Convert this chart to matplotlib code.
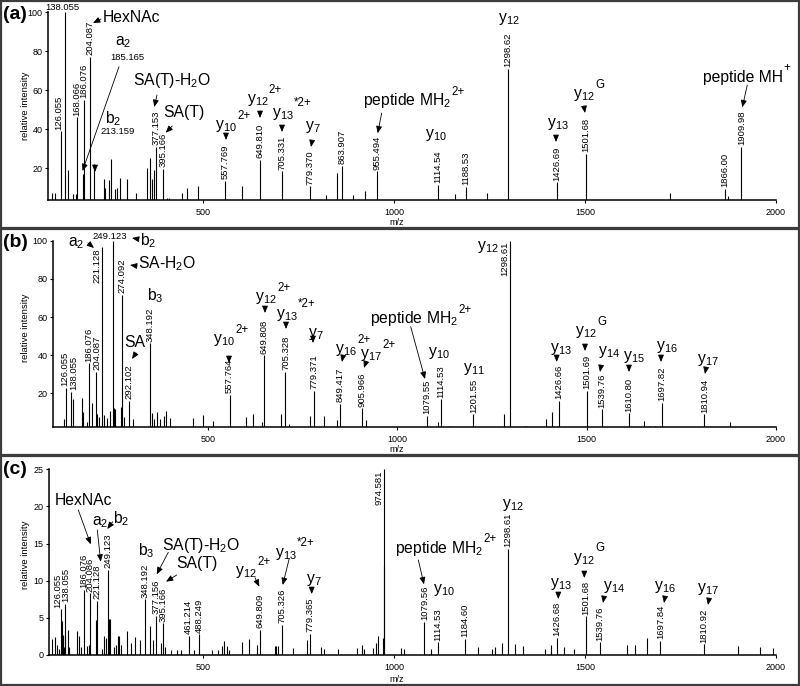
import matplotlib
matplotlib.use('Agg')
import matplotlib.pyplot as plt
import matplotlib.transforms as mtransforms
from matplotlib.patches import FancyArrowPatch, Rectangle

plt.rcParams['font.family'] = ['Liberation Sans', 'DejaVu Sans']
plt.rcParams['mathtext.default'] = 'regular'

# ---------------- data (m/z, relative intensity) ----------------
mz_a = [104, 111, 126.055, 138.055, 145, 159, 165.5, 168.066, 185.165, 186.076,
        204.087, 213.159, 239, 242, 253, 257, 269, 273, 282.5, 299, 323, 352, 360,
        365, 370, 377.153, 395.166, 404, 410, 443, 457, 485, 557.769, 602, 649.810,
        705.331, 779.370, 822, 849.5, 863.907, 891.5, 924.6, 955.494, 1114.54,
        1159.6, 1188.53, 1244, 1298.62, 1426.69, 1501.68, 1723, 1866.00, 1876,
        1909.98]
int_a = [7, 7, 38.8, 100, 19, 6.5, 6.5, 46, 17, 55,
         77, 22, 14.4, 10, 14, 24.6, 9, 10, 14.7, 14.4, 7, 20, 25,
         14.5, 19, 30.8, 19.6, 4.8, 4.8, 7, 10, 11, 13.5, 11, 24.3,
         18.3, 10.6, 6.3, 17.4, 21.3, 6.3, 8, 18.3, 11.4,
         6.5, 10.3, 7, 70.8, 12.6, 27.2, 7, 9.2, 5.5,
         30.8]
tags_a = [126.055, 168.066, 186.076, 204.087, 377.153, 395.166, 557.769, 649.810,
          705.331, 779.370, 863.907, 955.494, 1114.54, 1188.53, 1298.62, 1426.69,
          1501.68, 1866.00, 1909.98]
top_a = [138.055]
side_a = []
shift_a = {126.055: -1.5}

mz_b = [120.7, 126.055, 138.055, 145.3, 167.5, 171.7, 180.7, 186.076, 194.6, 204.087,
        207.8, 213.9, 221.128, 226.3, 233.4, 242.2, 249.123, 253.5, 256, 271.2,
        274.092, 279.1, 292.102, 302.8, 348.192, 352.2, 358.3, 367, 374.1, 385.5,
        390, 400.5, 460.4, 488.4, 514.8, 557.764, 601, 620.3, 642.5, 649.808,
        692.7, 705.328, 713.8, 770, 779.371, 807, 840.5, 849.417, 905.966, 917,
        1079.55, 1107.8, 1114.53, 1136.8, 1201.55, 1282, 1298.61, 1336, 1340, 1392,
        1409.5, 1426.66, 1501.69, 1539.76, 1610.80, 1651.5, 1664, 1680.5, 1697.82,
        1810.94, 1878.5]
int_b = [6.7, 22.8, 20.9, 16.8, 17.4, 10, 5, 35.8, 15, 31.4,
         9, 7.5, 96.5, 8.5, 7, 11, 100, 12.2, 12, 13,
         71.7, 7.5, 16, 6.5, 46.2, 9.5, 6.5, 10, 6.5, 8,
         10.5, 7, 7.2, 8.5, 5.5, 19.1, 7.5, 9, 5, 40,
         9, 31.3, 4, 8, 21.4, 8, 6, 14.4, 12.1, 6,
         8.1, 5, 16.9, 3, 9, 9.2, 100, 3, 3, 6.5,
         10, 16, 21.2, 11.6, 9.5, 5.5, 3, 3, 15.1,
         9, 5]
tags_b = [126.055, 138.055, 186.076, 204.087, 274.092, 292.102, 348.192, 557.764,
          649.808, 705.328, 779.371, 849.417, 905.966, 1079.55, 1114.53, 1201.55,
          1426.66, 1501.69, 1539.76, 1610.80, 1697.82, 1810.94]
top_b = [249.123]
side_b = [221.128, 1298.61]
shift_b = {126.055: -1.5, 138.055: 3.5, 204.087: 1}

mz_c = [104.3, 111.4, 117.4, 121.9, 126.055, 128.9, 131.6, 135, 136.8, 138.055,
        144.7, 148.1, 168.2, 175, 180.3, 186.076, 196, 199.7, 204.086, 218,
        221.128, 235.3, 240.6, 244.2, 249.123, 252, 254.5, 266.8, 271.2, 275.7,
        279, 283.5, 300.8, 309.7, 321.8, 334, 348.192, 360.3, 367.4, 377.156,
        390, 395.166, 399.6, 415, 431.9, 440.8, 461.214, 476.4, 488.249, 523.6,
        539.3, 548.2, 554.2, 561.3, 568.1, 600.6, 620.5, 641.5, 649.809, 687.9,
        691.3, 695, 705.326, 734.3, 771, 779.365, 807.7, 816.3, 852.2, 904,
        916.7, 922, 945.5, 952.6, 957, 970.1, 973.6, 974.581, 1018, 1026,
        1079.56, 1097.5, 1114.53, 1184.60, 1220.7, 1255.8, 1264.4, 1282, 1298.61, 1317.6,
        1338.6, 1395.4, 1410.4, 1426.68, 1446, 1472.2, 1501.68, 1539.76, 1611, 1631.3,
        1663.5, 1697.84, 1810.92, 1902, 1958.9, 1993.7]
int_c = [2.1, 2.4, 1.35, 0.8, 6.15, 4.6, 2.7, 1.1, 2.5, 6.9,
         3.3, 1.1, 3.2, 2.5, 1.1, 8.75, 1.2, 1.4, 8.3, 4.7,
         7.3, 0.75, 2.5, 2.3, 11.5, 4.8, 4.8, 1.1, 1.4, 2.5,
         2.5, 1.4, 3.2, 1.6, 2.4, 2, 7.5, 3.9, 2, 5.3,
         1.6, 4.25, 1.1, 0.7, 0.7, 0.7, 2.55, 0.7, 2.8, 0.7,
         0.7, 1.2, 1.9, 1.2, 0.7, 1.8, 2.2, 1.3, 3.35, 1.2,
         1.2, 1.2, 4.05, 1, 2, 2.85, 1.1, 0.8, 0.8, 0.9,
         1.4, 0.8, 1, 1.6, 2.5, 2.3, 12, 25, 0.9, 0.8,
         4.45, 0.85, 1.7, 2.15, 1.1, 0.8, 1.1, 1.6, 14.3, 1.5,
         1.2, 0.8, 1.3, 2.3, 1.1, 0.8, 5.2, 1.7, 1.4, 1.3,
         2.25, 1.9, 1.45, 1.2, 1.1, 1.0]
tags_c = [126.055, 138.055, 186.076, 204.086, 221.128, 249.123, 348.192, 377.156,
          395.166, 461.214, 488.249, 649.809, 705.326, 779.365, 1079.56, 1114.53,
          1184.60, 1298.61, 1426.68, 1501.68, 1539.76, 1697.84, 1810.92]
top_c = []
side_c = [974.581]
shift_c = {126.055: -3, 138.055: 1}

# ion annotations: (text, superscript, left px, baseline px); arrows (x0, y0, x1, y1) px
ions_a = [('HexNAc', '', 103, 21.7), ('a$_2$', '', 115, 45), ('b$_2$', '', 105, 123.3),
          ('SA(T)-H$_2$O', '', 133.3, 85), ('SA(T)', '', 163.3, 117.3),
          ('y$_{10}$', '2+', 215, 129.3), ('y$_{12}$', '2+', 246.7, 103.3),
          ('y$_{13}$', '*2+', 271.7, 116.7), ('y$_7$', '', 305, 130),
          ('peptide MH$_2$', '2+', 362.7, 105), ('y$_{10}$', '', 425, 138.3),
          ('y$_{12}$', '', 498.3, 21.7), ('y$_{13}$', '', 546.7, 126.7),
          ('y$_{12}$', 'G', 573.3, 98.3), ('peptide MH', '+', 702.7, 81.7)]
small_a = [('185.165', 110, 60), ('213.159', 100.7, 134)]
arrows_a = [(101, 19, 93, 23), (119, 66.7, 82.5, 171), (95, 165, 95, 172),
            (157, 95, 154.3, 107), (172.3, 126, 165.7, 132.7), (226, 134, 226, 140),
            (260, 111, 260, 118), (282, 126, 282, 132), (312, 141, 311, 147),
            (381.7, 113, 377.7, 133.3), (556, 136, 556, 142), (584, 106, 585, 113),
            (747.3, 85, 742.3, 107.3)]

ions_b = [('a$_2$', '', 68.3, 246.7), ('b$_2$', '', 140, 245), ('SA-H$_2$O', '', 138.3, 268.3),
          ('b$_3$', '', 146.7, 300), ('SA', '', 124, 346.7), ('y$_{10}$', '2+', 213.3, 343.3),
          ('y$_{12}$', '2+', 255, 301), ('y$_{13}$', '*2+', 276, 317.7),
          ('y$_7$', '', 308.3, 336.7), ('y$_{16}$', '2+', 335, 353.3),
          ('y$_{17}$', '2+', 360, 358.3), ('peptide MH$_2$', '2+', 370, 323),
          ('y$_{10}$', '', 428.3, 355.7), ('y$_{11}$', '', 463.3, 371.7),
          ('y$_{12}$', '', 476.7, 250), ('y$_{13}$', '', 550, 351.7),
          ('y$_{12}$', 'G', 575, 335), ('y$_{14}$', '', 598.3, 355),
          ('y$_{15}$', '', 622.7, 360), ('y$_{16}$', '', 656, 350), ('y$_{17}$', '', 697.3, 363.3)]
small_b = []
arrows_b = [(88, 243, 94, 248), (138, 239, 132, 238), (137, 266, 130, 265),
            (136, 353, 132, 359), (229, 357, 229, 363), (265, 307, 265, 313),
            (286, 323, 286, 329), (313, 337, 313, 343), (343, 356, 342, 362),
            (366, 362, 364, 368), (410.7, 326.7, 425, 379), (556.7, 356, 556.7, 362),
            (585, 345, 585, 351), (601, 366, 600, 372), (629, 366, 629, 372),
            (661, 356, 661, 362), (706, 368, 705, 374)]

ions_c = [('HexNAc', '', 55, 505), ('a$_2$', '', 91.7, 525), ('b$_2$', '', 113.3, 523.3),
          ('b$_3$', '', 138.3, 555), ('SA(T)-H$_2$O', '', 161.7, 550), ('SA(T)', '', 176.7, 568.3),
          ('y$_{12}$', '2+', 235, 575), ('y$_{13}$', '*2+', 275, 556.7),
          ('y$_7$', '', 306, 583.3), ('peptide MH$_2$', '2+', 395, 552.5),
          ('y$_{10}$', '', 433.3, 593.3), ('y$_{12}$', '', 501.7, 508.3), ('y$_{13}$', '', 550, 586.7),
          ('y$_{12}$', 'G', 573.3, 561.7), ('y$_{14}$', '', 602.7, 590), ('y$_{16}$', '', 654, 590),
          ('y$_{17}$', '', 696.7, 591.7)]
small_c = []
arrows_c = [(78.3, 510, 90.7, 544.3), (97.3, 530, 100.7, 561.7), (112.7, 521.7, 107.3, 529),
            (168.3, 552.3, 156.7, 574.3), (176.7, 575, 166, 581.7), (255, 577.7, 259.3, 586.7),
            (289.3, 558.3, 282.7, 585), (311.7, 588, 311.7, 594), (418.3, 560, 424, 584.3),
            (558.3, 593, 558.3, 599), (584.3, 572, 584.3, 578), (604, 597, 603, 603),
            (665, 597, 664, 603), (709, 599, 708, 605)]

# ---------------- figure ----------------
W, H = 800, 686
fig = plt.figure(figsize=(W / 100, H / 100), dpi=100)
pix = mtransforms.Affine2D().scale(1 / W, -1 / H).translate(0, 1) + fig.transFigure


def fmt(m):
    return f'{m:.3f}' if m < 1000 else f'{m:.2f}'


panels = [
    # letter, axes rect px (l, t, r, b), xlim, ylim, yticks, data, box px, ylabel y, m/z y, letter y
    ('(a)', (48.3, 12.3, 775.7, 200), (93.8, 2000), (3.6, 100), [20, 40, 60, 80, 100],
     (mz_a, int_a, tags_a, top_a, side_a, shift_a, ions_a, small_a, arrows_a),
     (1, 1, 799, 228), 106, 222.5, 19),
    ('(b)', (53.3, 240.7, 776, 427.3), (92.5, 2000), (2.2, 100), [20, 40, 60, 80, 100],
     (mz_b, int_b, tags_b, top_b, side_b, shift_b, ions_b, small_b, arrows_b),
     (1, 229, 799, 455), 328, 450, 247),
    ('(c)', (49.3, 469.3, 775.7, 655), (96.4, 2000), (0, 25), [0, 5, 10, 15, 20, 25],
     (mz_c, int_c, tags_c, top_c, side_c, shift_c, ions_c, small_c, arrows_c),
     (1, 456, 799, 685), 555, 680, 474),
]

for letter, (l, t, r, b), xlim, ylim, yticks, data, box, ylab_y, mz_y, let_y in panels:
    mz, inten, tags, tops, sides, shift, ions, smalls, arrows = data
    fig.add_artist(Rectangle((box[0], box[1]), box[2] - box[0], box[3] - box[1],
                             transform=pix, fill=False, ec='#3c3c3c', lw=1.6))
    ax = fig.add_axes([l / W, 1 - b / H, (r - l) / W, (b - t) / H])
    ax.patch.set_alpha(0)
    ax.vlines(mz, 0, inten, color='k', lw=0.8)
    ax.set_xlim(*xlim)
    ax.set_ylim(*ylim)
    ax.set_xticks([500, 1000, 1500, 2000])
    ax.set_yticks(yticks)
    for s in ['top', 'right']:
        ax.spines[s].set_visible(False)
    for s in ['left', 'bottom']:
        ax.spines[s].set_linewidth(1.1)
    ax.tick_params(axis='both', labelsize=6.5, length=2.5, width=0.8)
    ax.tick_params(axis='x', pad=3)
    ax.tick_params(axis='y', pad=1.5)

    # m/z values written over the peaks
    for m in tags:
        ax.annotate(fmt(m), (m, inten[mz.index(m)]), xytext=(shift.get(m, 0) * 0.72, 1.2),
                    textcoords='offset points', rotation=90, ha='center',
                    va='bottom', fontsize=6.8)
    for m in tops:
        ax.annotate(fmt(m), (m, inten[mz.index(m)]), xytext=(-2, 1.5),
                    textcoords='offset points', ha='center', va='baseline',
                    fontsize=6.8, annotation_clip=False)
    for m in sides:
        ax.annotate(fmt(m), (m, inten[mz.index(m)]), xytext=(-0.6, -1),
                    textcoords='offset points', rotation=90, ha='right',
                    va='top', fontsize=6.8)

    # fragment ion names
    for s, sup, x, y in ions:
        main = fig.text(x, y, s, transform=pix, fontsize=11.3, ha='left', va='baseline')
        if sup:
            ax.annotate(sup, xy=(1, y), xycoords=(main, pix), xytext=(0.2, 7.5),
                        textcoords='offset points', ha='left', va='baseline',
                        fontsize=8.3, annotation_clip=False)
    for s, x, y in smalls:
        fig.text(x, y, s, transform=pix, fontsize=6.8, ha='left', va='baseline')
    for x0, y0, x1, y1 in arrows:
        fig.add_artist(FancyArrowPatch((x0, y0), (x1, y1), transform=pix,
                                       arrowstyle='-|>,head_length=0.6,head_width=0.25',
                                       mutation_scale=7, lw=0.6, color='k',
                                       shrinkA=0, shrinkB=0))

    fig.text(3, let_y, letter, transform=pix, fontsize=14, fontweight='bold',
             ha='left', va='baseline')
    fig.text(25, ylab_y, 'relative intensity', transform=pix, fontsize=6.8,
             rotation=90, ha='center', va='center')
    fig.text(397, mz_y, 'm/z', transform=pix, fontsize=6.5, ha='center', va='center')

fig.savefig('out.png', dpi=100)
